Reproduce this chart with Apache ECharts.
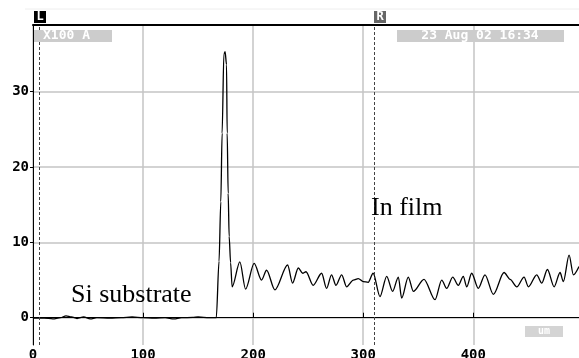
<!DOCTYPE html>
<html>
<head>
<meta charset="utf-8">
<script src="https://cdn.jsdelivr.net/npm/echarts@6/dist/echarts.min.js"></script>
<style>
  html, body { margin: 0; padding: 0; background: #fff; }
  #chart { width: 579px; height: 358px; }
</style>
</head>
<body>
<div id="chart"></div>
<script>
// depth profile, position in um vs signal (X100 A)
const positions = [
  0, 10, 18, 25, 30, 35, 40, 46, 52, 58, 70, 80, 90, 100, 110, 120, 128, 135, 145, 150, 160, 166.5,
  169, 170.6, 171.8, 173.4, 174.5, 175.8, 176.4, 177.3, 178.2, 179.5, 180.9,
  187.9, 193.1, 200.9, 207.6, 212.2, 219.7, 231.3, 235.8, 241, 245, 248, 254.5,
  262.2, 266.7, 271.2, 275.2, 280.4, 284.9, 291, 295.5, 300, 304.5, 309, 315.2,
  321.3, 326.7, 331.9, 334.9, 340.9, 345.5, 355.2, 365.2, 371.3, 375.8, 381.3, 386.4,
  390.9, 394, 398.5, 404.5, 410.6, 418.2, 427.9, 433.4, 439.5, 446.1, 450, 457.6,
  462.2, 467.3, 473.4, 478.8, 481.8, 487, 490.9, 496
];
const signal = [
  -0.05, -0.05, -0.15, 0.0, 0.25, 0.1, -0.1, 0.1, -0.15, 0.0, -0.05, 0.0, 0.1, 0.0, -0.05, 0.0, -0.15, 0.0, 0.05, 0.1, 0.0, 0.0,
  7.5, 15.4, 24.5, 35.0, 35.3, 33.6, 24.5, 16.5, 10.8, 7.3, 4.1,
  7.4, 3.8, 7.2, 5.0, 6.3, 3.7, 7.0, 4.6, 6.6, 5.9, 6.1, 4.3,
  5.9, 3.9, 5.7, 4.3, 5.7, 4.1, 5.0, 5.2, 4.8, 4.7, 5.9, 2.8,
  5.5, 3.5, 5.4, 2.6, 5.4, 3.5, 5.1, 2.4, 5.0, 3.9, 5.4, 4.3,
  5.5, 4.1, 5.9, 3.9, 5.7, 3.1, 6.0, 5.1, 4.1, 5.4, 4.1, 5.7,
  4.6, 6.4, 4.1, 6.0, 4.8, 8.3, 5.7, 6.8
];
const xTicks = [0, 100, 200, 300, 400];
const yTicks = [0, 10, 20, 30];
const cursorL = 6.1;
const cursorR = 310.4;

const tickFont = { color: '#000', fontFamily: 'DejaVu Sans Mono', fontWeight: 'bold', fontSize: 14 };
const boxFont = { fill: '#fff', fontFamily: 'DejaVu Sans Mono', fontWeight: 'bold', fontSize: 13 };

const chart = echarts.init(document.getElementById('chart'), null, { renderer: 'canvas' });

chart.setOption({
  animation: false,
  grid: { left: 33, right: 0, top: 25, bottom: 13, containLabel: false, outerBoundsMode: 'none' },
  xAxis: [{
    type: 'value',
    min: 0,
    max: 496,
    position: 'bottom',
    axisLine: { show: true, lineStyle: { color: '#000', width: 1 } },
    axisTick: { show: true, inside: true, length: 5, customValues: xTicks, lineStyle: { color: '#000' } },
    axisLabel: Object.assign({ customValues: xTicks, margin: 3 }, tickFont),
    splitLine: { show: true, lineStyle: { color: '#c4c4c4', width: 1.5 } }
  }, {
    type: 'value',
    min: 0,
    max: 496,
    position: 'top',
    axisLine: { show: true, lineStyle: { color: '#000', width: 2 } },
    axisTick: { show: false },
    axisLabel: { show: false },
    splitLine: { show: false }
  }],
  yAxis: {
    type: 'value',
    min: -3.62,
    max: 38.85,
    axisLine: { show: true, lineStyle: { color: '#000', width: 1 } },
    axisTick: { show: true, length: 3, customValues: yTicks, lineStyle: { color: '#000' } },
    axisLabel: Object.assign({ customValues: yTicks, margin: 4 }, tickFont),
    splitLine: { show: true, lineStyle: { color: '#c4c4c4', width: 1.5 } }
  },
  series: [{
    type: 'line',
    data: positions.map((x, i) => [x, signal[i]]),
    showSymbol: false,
    smooth: 0.3,
    smoothMonotone: 'x',
    lineStyle: { color: '#000', width: 1.3 },
    markLine: {
      silent: true,
      symbol: 'none',
      label: { show: false },
      lineStyle: { color: '#444', type: [3, 2], width: 1 },
      data: [{ xAxis: cursorL }, { xAxis: cursorR }]
    }
  }],
  graphic: [
    { type: 'line', shape: { x1: 25, y1: 9, x2: 579, y2: 9 }, style: { stroke: '#eeeeee', lineWidth: 1 } },
    // cursor markers
    { type: 'rect', shape: { x: 34, y: 11, width: 12, height: 12 }, style: { fill: '#000' } },
    { type: 'text', x: 40, y: 17, style: Object.assign({}, boxFont, { text: 'L', fontSize: 12, align: 'center', verticalAlign: 'middle' }) },
    { type: 'rect', shape: { x: 374, y: 11, width: 12, height: 12 }, style: { fill: '#666' } },
    { type: 'text', x: 380, y: 17, style: Object.assign({}, boxFont, { text: 'R', fontSize: 12, align: 'center', verticalAlign: 'middle' }) },
    // header boxes
    { type: 'rect', z: 10, shape: { x: 34, y: 30, width: 78, height: 12 }, style: { fill: '#cccccc' } },
    { type: 'text', z: 11, x: 43, y: 36, style: Object.assign({}, boxFont, { text: 'X100 A', verticalAlign: 'middle' }) },
    { type: 'rect', z: 10, shape: { x: 397, y: 30, width: 167, height: 12 }, style: { fill: '#cccccc' } },
    { type: 'text', z: 11, x: 480, y: 36, style: Object.assign({}, boxFont, { text: '23 Aug 02 16:34', align: 'center', verticalAlign: 'middle' }) },
    { type: 'rect', z: 10, shape: { x: 525, y: 326, width: 38, height: 11 }, style: { fill: '#d4d4d4' } },
    { type: 'text', z: 11, x: 544, y: 331.5, style: Object.assign({}, boxFont, { text: 'um', fontSize: 10, align: 'center', verticalAlign: 'middle' }) },
    // annotations
    { type: 'text', z: 12, x: 71, y: 308, style: { text: 'Si substrate', fill: '#000', fontFamily: 'Liberation Serif', fontSize: 26, verticalAlign: 'bottom' } },
    { type: 'text', z: 12, x: 371, y: 221, style: { text: 'In film', fill: '#000', fontFamily: 'Liberation Serif', fontSize: 26, verticalAlign: 'bottom' } }
  ]
});
</script>
</body>
</html>
